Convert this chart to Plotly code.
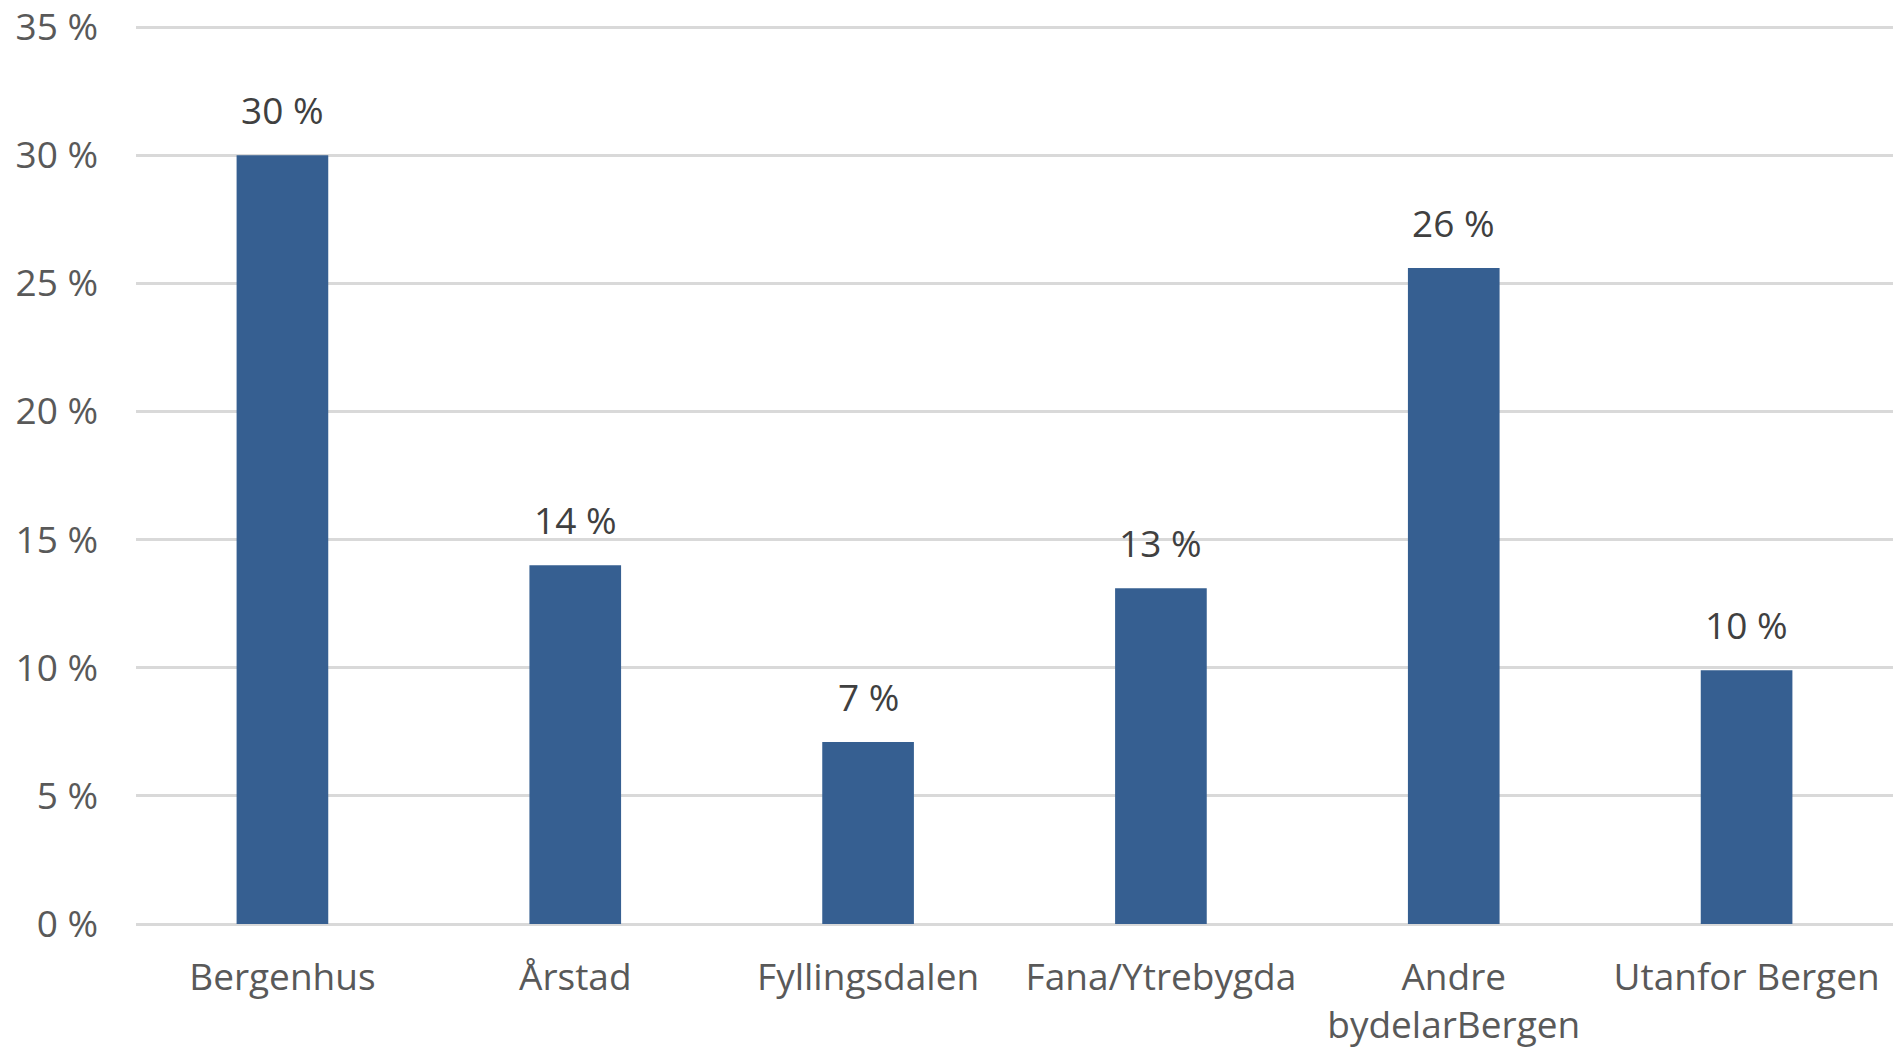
import plotly.graph_objects as go

categories = ["Bergenhus", "Årstad", "Fyllingsdalen", "Fana/Ytrebygda",
              "Andre<br>bydelarBergen", "Utanfor Bergen"]
values = [30.0, 14.0, 7.1, 13.1, 25.6, 9.9]
labels = ["30 %", "14 %", "7 %", "13 %", "26 %", "10 %"]
y_ticks = [0, 5, 10, 15, 20, 25, 30, 35]
y_ticktext = ["0 %", "5 %", "10 %", "15 %", "20 %", "25 %", "30 %", "35 %"]

FONT = "Open Sans"
fig = go.Figure()
fig.add_trace(go.Bar(
    x=categories, y=values,
    marker=dict(color="#365F91", line=dict(width=0)),
    width=0.313,
    hoverinfo="skip",
))
for c, v, t in zip(categories, values, labels):
    fig.add_annotation(x=c, y=v, text=t, showarrow=False, yanchor="bottom",
                       yshift=18, font=dict(family=FONT, size=37, color="#404040"))

fig.update_layout(
    width=1893, height=1051,
    margin=dict(l=136, r=0, t=26, b=127, pad=0, autoexpand=False),
    plot_bgcolor="white", paper_bgcolor="white",
    showlegend=False,
    font=dict(family=FONT, size=37, color="#595959"),
)
fig.update_xaxes(
    automargin=False,
    showgrid=False, showline=False, ticks="",
    ticklabelstandoff=28, ticklabeloverflow="allow",
    tickfont=dict(family=FONT, size=37, color="#595959"),
)
fig.update_yaxes(
    automargin=False,
    range=[0, 35.04], tickvals=y_ticks, ticktext=y_ticktext,
    showgrid=True, gridcolor="#D9D9D9", gridwidth=2.5,
    zeroline=True, zerolinecolor="#D9D9D9", zerolinewidth=2.5,
    showline=False, ticks="", ticklabelstandoff=37,
    ticklabeloverflow="allow",
    tickfont=dict(family=FONT, size=37, color="#595959"),
)
fig.write_html("out.html", config={"displayModeBar": False},
               post_script="document.body.style.margin='0';document.body.style.overflow='hidden';")
